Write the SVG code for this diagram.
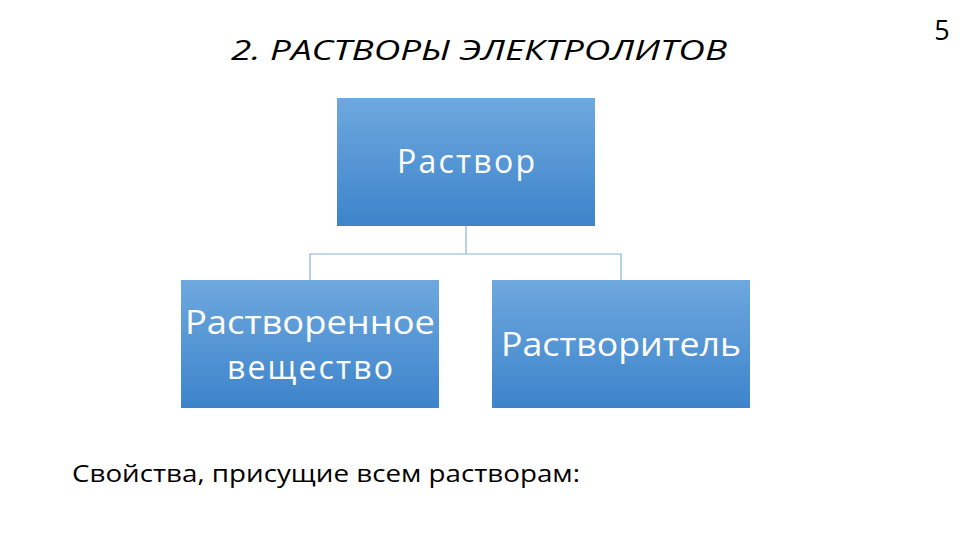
<svg xmlns="http://www.w3.org/2000/svg" width="960" height="540" viewBox="0 0 960 540">
<defs>
<linearGradient id="g" x1="0" y1="0" x2="0" y2="1"><stop offset="0" stop-color="#6ea8de"/><stop offset="1" stop-color="#3d84cb"/></linearGradient>
<style>
.box{fill:url(#g)}
.bt{fill:#fff;font-family:"Open Sans","DejaVu Sans",sans-serif;font-size:32px;text-anchor:middle}
.t{font-family:"Open Sans","Liberation Sans",sans-serif;fill:#000}
</style>
</defs>
<rect width="960" height="540" fill="#fff"/>
<text class="t" x="479" y="60" font-size="27" font-style="italic" text-anchor="middle" textLength="496" lengthAdjust="spacingAndGlyphs">2. РАСТВОРЫ ЭЛЕКТРОЛИТОВ</text>
<text class="t" x="942" y="40" font-size="27" text-anchor="middle">5</text>
<g id="connectors" fill="none" stroke="#8db3d9" stroke-width="1.2">
<path d="M466 226V254H310V280M466 254H621V280"/>
</g>
<g id="n1"><rect class="box" x="337" y="98" width="258" height="128"/><text class="bt" x="466" y="173" textLength="138" lengthAdjust="spacing">Раствор</text></g>
<g id="n2"><rect class="box" x="181" y="280" width="258" height="128"/><text class="bt" x="310" y="334" textLength="250" lengthAdjust="spacingAndGlyphs">Растворенное</text><text class="bt" x="310" y="379" textLength="166" lengthAdjust="spacing">вещество</text></g>
<g id="n3"><rect class="box" x="492" y="280" width="258" height="128"/><text class="bt" x="621" y="356" textLength="240" lengthAdjust="spacingAndGlyphs">Растворитель</text></g>
<text class="t" x="72" y="482" font-size="23" textLength="508" lengthAdjust="spacingAndGlyphs">Свойства, присущие всем растворам:</text>
</svg>
